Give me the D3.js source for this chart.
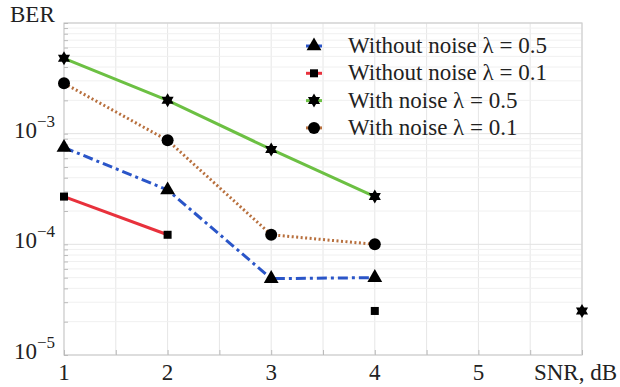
<!DOCTYPE html>
<html>
<head>
<meta charset="utf-8">
<script src="https://cdn.jsdelivr.net/npm/d3@7.9.0/dist/d3.min.js"></script>
<style>
  body { margin: 0; background: #fff; }
  text { font-family: 'Liberation Serif', 'DejaVu Serif', serif; }
</style>
</head>
<body>
<svg id="chart" width="620" height="387"></svg>
<script>
// SNR, dB
const snr = [1, 2, 3, 4, 5, 6];

// BER values (null = no point)
const withoutNoise05 = [7.5e-4, 3.1e-4, 4.9e-5, 5.0e-5, null, null];
const withoutNoise01 = [2.7e-4, 1.22e-4, null, 2.5e-5, null, null];
const withNoise05 = [4.8e-3, 2.0e-3, 7.2e-4, 2.7e-4, null, 2.5e-5];
const withNoise01 = [2.85e-3, 8.7e-4, 1.22e-4, 1.0e-4, null, null];

const xTicks = [1, 2, 3, 4, 5];
const yTicks = [1e-5, 1e-4, 1e-3];
const seriesNames = [
    'Without noise λ = 0.5',
    'Without noise λ = 0.1',
    'With noise λ = 0.5',
    'With noise λ = 0.1'
];

const series = [
    { name: seriesNames[0], values: withoutNoise05, color: '#2a55c8', dash: '10,4,3,4', marker: 'triangle' },
    { name: seriesNames[1], values: withoutNoise01, color: '#e8313c', dash: null, marker: 'square' },
    { name: seriesNames[2], values: withNoise05, color: '#6cc043', dash: null, marker: 'star' },
    { name: seriesNames[3], values: withNoise01, color: '#b8703e', dash: '2,2.5', marker: 'circle' }
];

const FONT = "'Liberation Serif', 'DejaVu Serif', serif";

const svg = d3.select('#chart');
const margin = { left: 64, right: 38, top: 23, bottom: 32 };
const width = 620 - margin.left - margin.right;
const height = 387 - margin.top - margin.bottom;

const x = d3.scaleLinear().domain([1, 6]).range([margin.left, margin.left + width]);
const y = d3.scaleLog().domain([1e-5, 1e-2]).range([margin.top + height, margin.top]);

// grid
const grid = svg.append('g');
d3.range(1, 6.01, 0.5).forEach((v) => {
    grid.append('line')
        .attr('x1', x(v)).attr('x2', x(v))
        .attr('y1', y.range()[0]).attr('y2', y.range()[1])
        .attr('stroke', '#e6e6e6').attr('stroke-width', 1);
});
y.ticks().forEach((v) => {
    const major = Math.abs(Math.log10(v) - Math.round(Math.log10(v))) < 1e-9;
    grid.append('line')
        .attr('x1', x.range()[0]).attr('x2', x.range()[1])
        .attr('y1', y(v)).attr('y2', y(v))
        .attr('stroke', major ? '#e2e2e2' : '#f0f0f0').attr('stroke-width', 1);
});

// box
svg.append('rect')
    .attr('x', margin.left).attr('y', margin.top)
    .attr('width', width).attr('height', height)
    .attr('fill', 'none').attr('stroke', '#d0d0d0').attr('stroke-width', 1.2);

// small ticks on the axes
const xAxis = d3.axisBottom(x).tickValues(d3.range(1, 6.01, 0.5)).tickSize(-5).tickFormat('');
svg.append('g').attr('transform', `translate(0,${margin.top + height})`).call(xAxis)
    .call((g) => g.select('.domain').remove())
    .call((g) => g.selectAll('line').attr('stroke', '#bbb'));
const yAxis = d3.axisLeft(y).tickSize(-4).tickFormat('');
svg.append('g').attr('transform', `translate(${margin.left},0)`).call(yAxis)
    .call((g) => g.select('.domain').remove())
    .call((g) => g.selectAll('line').attr('stroke', '#bbb'));

// tick labels
svg.append('g').selectAll('text').data(xTicks).join('text')
    .attr('x', (d) => x(d)).attr('y', 380)
    .attr('text-anchor', 'middle')
    .attr('font-family', FONT)
    .attr('font-size', 23).attr('fill', '#222')
    .text((d) => d);

const yLab = svg.append('g').selectAll('text').data(yTicks).join('text')
    .attr('x', 14).attr('y', (d) => y(d) + 4)
    .attr('font-family', FONT)
    .attr('font-size', 23).attr('fill', '#222');
yLab.append('tspan').text('10');
yLab.append('tspan').attr('dy', -11).attr('font-size', 17)
    .text((d) => '\u2212' + Math.round(-Math.log10(d)));

svg.append('text').attr('x', 10).attr('y', 22).attr('font-family', FONT)
    .attr('font-size', 23).attr('fill', '#222').text('BER');
svg.append('text').attr('x', 617).attr('y', 380).attr('text-anchor', 'end').attr('font-family', FONT)
    .attr('font-size', 23).attr('fill', '#222').text('SNR, dB');

// markers
function drawMarker(g, type, cx, cy) {
    if (type === 'triangle') {
        g.append('path').attr('d', d3.symbol().type(d3.symbolTriangle).size(95)())
            .attr('transform', `translate(${cx},${cy})`).attr('fill', '#000');
    } else if (type === 'square') {
        g.append('rect').attr('x', cx - 4).attr('y', cy - 4).attr('width', 8).attr('height', 8).attr('fill', '#000');
    } else if (type === 'circle') {
        g.append('circle').attr('cx', cx).attr('cy', cy).attr('r', 6).attr('fill', '#000');
    } else {
        // six-pointed star
        const r = 7;
        const pts = [];
        for (let i = 0; i < 12; i++) {
            const a = Math.PI / 6 * i - Math.PI / 2;
            const rr = i % 2 === 0 ? r : r * 0.58;
            pts.push([cx + rr * Math.cos(a), cy + rr * Math.sin(a)]);
        }
        g.append('path').attr('d', d3.line()(pts) + 'Z').attr('fill', '#000');
    }
}

const line = d3.line()
    .defined((d) => d.v !== null)
    .x((d) => x(d.s))
    .y((d) => y(d.v));

const plot = svg.append('g');
series.forEach((s) => {
    const pts = snr.map((v, i) => ({ s: v, v: s.values[i] }));
    plot.append('path')
        .datum(pts)
        .attr('d', line)
        .attr('fill', 'none')
        .attr('stroke', s.color)
        .attr('stroke-width', 3)
        .attr('stroke-dasharray', s.dash);
});
series.forEach((s) => {
    snr.forEach((v, i) => {
        if (s.values[i] !== null) drawMarker(plot, s.marker, x(v), y(s.values[i]));
    });
});

// legend
const legend = svg.append('g');
series.forEach((s, i) => {
    const ly = 46 + i * 27.3;
    legend.append('line')
        .attr('x1', 306).attr('x2', 322).attr('y1', ly).attr('y2', ly)
        .attr('stroke', s.color).attr('stroke-width', 3);
    drawMarker(legend, s.marker, 314, ly);
    legend.append('text')
        .attr('x', 348).attr('y', ly + 7)
        .attr('font-family', FONT)
        .attr('font-size', 23).attr('fill', '#222')
        .text(s.name);
});
</script>
</body>
</html>
